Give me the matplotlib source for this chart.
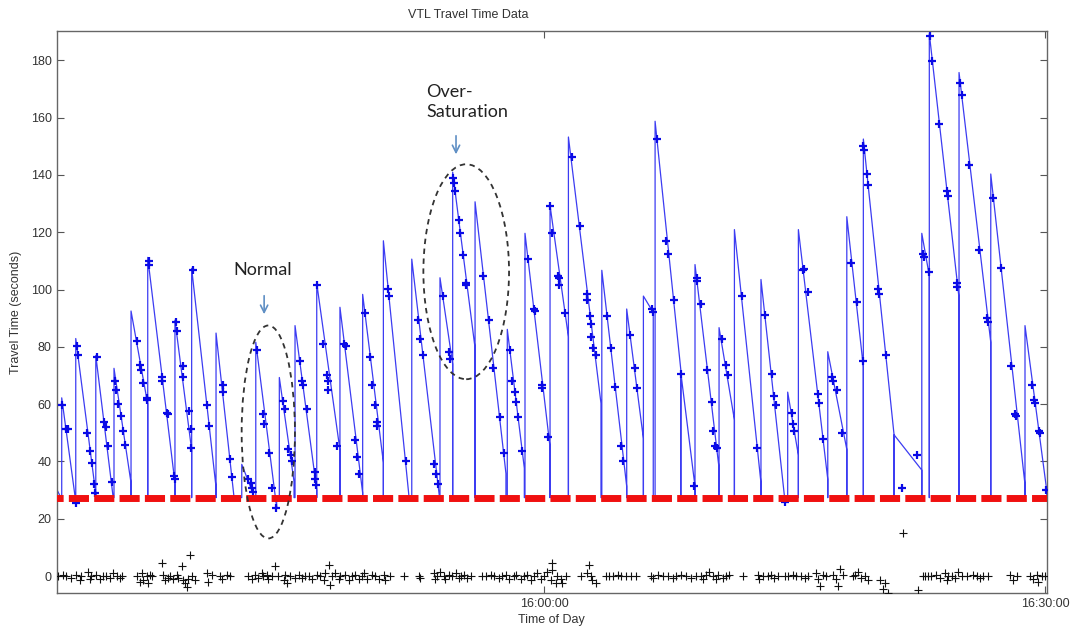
import numpy as np
import matplotlib
matplotlib.use("Agg")
import matplotlib.pyplot as plt
from matplotlib.patches import Ellipse

# time axis: minutes after 15:00
# sawtooth cycles of the VTL travel time (start, peak, end, value at end)
cyc_start = [30.50, 31.12, 31.96, 33.16, 34.25, 35.27, 36.27, 37.90, 38.90, 40.36,
             41.90, 42.74, 44.15, 45.09, 46.39, 47.78, 49.14, 50.38, 52.08, 53.77,
             54.53, 55.87, 57.80, 58.86, 60.36, 61.46, 63.46, 64.95, 65.95, 66.65,
             68.19, 69.04, 70.48, 71.40, 72.99, 74.59, 75.23, 76.99, 78.13, 79.12,
             80.96, 82.62, 83.07, 84.85, 86.75, 88.80]
cyc_peak = [34.0, 62.2, 82.9, 77.0, 72.5, 92.5, 111.2, 89.3, 107.4, 84.8,
            39.0, 81.6, 69.3, 87.4, 102.2, 93.8, 98.3, 117.0, 110.6, 104.1,
            140.9, 130.6, 86.1, 119.6, 129.3, 153.2, 106.7, 93.2, 97.7, 158.7,
            71.0, 108.7, 86.7, 120.9, 103.5, 64.2, 120.9, 78.3, 125.4, 152.5,
            49.3, 119.6, 189.3, 175.7, 140.3, 87.4]
cyc_end = [31.02, 31.96, 33.16, 34.21, 35.27, 36.27, 37.90, 38.90, 40.36, 41.44,
           42.59, 43.99, 45.03, 46.39, 47.78, 49.14, 50.38, 51.92, 53.73, 54.53,
           55.87, 57.72, 58.82, 60.36, 61.46, 63.41, 64.95, 65.95, 66.54, 68.19,
           69.04, 70.48, 71.40, 72.99, 74.43, 75.23, 76.99, 78.13, 79.12, 80.96,
           82.62, 83.07, 84.85, 86.75, 88.80, 90.10]
cyc_endval = [28.0, 26.0, 28.7, 27.0, 32.5, 60.0, 32.5, 44.0, 31.0, 27.4,
              28.7, 24.0, 33.0, 30.0, 44.0, 29.0, 39.6, 27.4, 28.0, 74.0,
              79.6, 35.8, 37.7, 45.0, 83.5, 60.3, 31.3, 48.0, 92.0, 72.0,
              31.3, 37.7, 54.5, 32.5, 26.0, 42.2, 33.8, 44.2, 73.0, 49.3,
              37.0, 104.8, 97.0, 81.6, 31.9, 30.0]

# individual vehicle travel times (blue +)
blue_t = [31.12, 31.40, 31.48, 31.96,
          32.02, 32.11, 32.62, 32.81, 32.91, 33.07, 33.11,
          33.22, 33.67, 33.75, 33.87, 34.15,
          34.31, 34.37, 34.51, 34.67, 34.81, 34.91,
          35.61, 35.81, 35.87, 36.01, 36.21, 36.23,
          36.35, 36.35, 37.11, 37.14, 37.41, 37.50, 37.86, 37.88,
          37.96, 38.04, 38.37, 38.40, 38.76, 38.84, 38.84,
          38.96, 39.80, 39.94,
          40.75, 40.76, 41.20, 41.34,
          42.29, 42.43, 42.53, 42.56,
          42.80, 43.19, 43.25, 43.53, 43.73, 43.95,
          44.39, 44.49, 44.69, 44.83, 44.89,
          45.39, 45.49, 45.59, 45.83, 46.29, 46.31, 46.35,
          46.39, 46.78, 47.02, 47.05, 47.08, 47.59,
          48.02, 48.14, 48.68, 48.82, 48.94,
          49.28, 49.58, 49.72, 49.88, 49.98, 50.00,
          50.66, 50.70, 51.72,
          52.47, 52.57, 52.77, 53.43, 53.51, 53.67,
          53.97, 54.31, 54.37,
          54.57, 54.63, 54.67, 54.91, 54.99, 55.17, 55.33, 55.35,
          56.37, 56.72, 56.96, 57.37, 57.62,
          57.96, 58.10, 58.26, 58.30, 58.42, 58.66,
          59.02, 59.40, 59.43, 59.86, 59.89, 60.26,
          60.36, 60.46, 60.86, 60.89, 60.92, 61.26,
          61.66, 62.16, 62.56, 62.58, 62.75, 62.80, 62.84, 62.95, 63.11,
          63.75, 63.99, 64.25, 64.59, 64.75,
          65.15, 65.45, 65.55,
          66.45, 66.50,
          66.75, 67.31, 67.44, 67.78,
          68.19, 69.00,
          69.14, 69.16, 69.38, 69.78, 70.04, 70.14, 70.24, 70.34,
          70.64, 70.90, 71.00,
          71.87, 72.74,
          73.23, 73.67, 73.79, 73.87, 74.43,
          74.87, 74.93, 74.99,
          75.53, 75.57, 75.79, 76.39, 76.47, 76.72,
          77.23, 77.29, 77.53, 77.86,
          78.38, 78.72, 79.12,
          79.12, 79.18, 79.32, 79.42, 80.02, 80.08, 80.48,
          81.42, 82.32,
          82.71, 82.77, 83.07,
          83.11, 83.22, 83.67, 84.11, 84.17, 84.71, 84.75,
          84.91, 85.01, 85.47, 86.05, 86.51, 86.57,
          86.90, 87.37, 87.96, 88.20, 88.26,
          89.24, 89.34, 89.40, 89.66, 89.70, 90.08]
blue_v = [59.6, 51.3, 51.3, 25.5,
          80.3, 77.0, 50.0, 43.5, 39.6, 32.0, 29.0,
          76.4, 53.8, 52.0, 45.5, 32.8,
          68.0, 65.0, 60.0, 56.0, 50.6, 45.7,
          82.2, 73.8, 71.9, 67.4, 62.2, 61.5,
          110.0, 108.7, 69.3, 68.0, 57.0, 56.4, 35.0, 33.8,
          88.7, 85.4, 73.2, 69.3, 57.7, 51.3, 44.8,
          106.7, 59.6, 52.5,
          66.7, 64.4, 41.0, 34.5,
          33.8, 32.5, 30.6, 29.3,
          79.0, 56.4, 53.0, 42.9, 30.6, 23.8,
          61.0, 58.4, 44.2, 42.2, 40.3,
          75.0, 68.0, 66.7, 58.4, 36.4, 33.8, 31.9,
          101.6, 81.0, 70.0, 64.8, 68.0, 45.5,
          81.0, 80.3, 47.4, 41.6, 35.8,
          91.9, 76.4, 66.7, 59.6, 53.8, 52.5,
          100.3, 97.7, 40.3,
          89.3, 82.9, 77.0, 39.0, 35.8, 32.3,
          97.7, 78.3, 75.8,
          139.0, 137.0, 134.5, 124.1, 119.6, 111.9, 102.2, 101.5,
          104.8, 89.3, 72.5, 55.4, 42.9,
          79.0, 68.0, 64.4, 60.6, 55.4, 43.5,
          110.6, 93.2, 92.5, 66.7, 65.5, 48.7,
          129.3, 119.6, 104.8, 104.0, 101.6, 91.9,
          146.1, 122.2, 98.3, 96.5, 90.6, 88.0, 83.5, 79.6, 77.0,
          90.6, 79.6, 66.1, 45.5, 40.3,
          84.2, 72.5, 65.5,
          93.2, 92.0,
          152.5, 117.0, 112.5, 96.4,
          70.6, 31.3,
          104.1, 103.0, 95.1, 71.9, 60.9, 50.6, 45.5, 44.8,
          82.9, 73.8, 70.0,
          97.7, 44.8,
          91.2, 70.6, 62.9, 59.6, 26.0,
          57.0, 53.2, 50.6,
          106.7, 107.3, 99.0, 63.5, 60.3, 48.0,
          69.3, 68.0, 64.8, 50.0,
          109.3, 95.8, 75.0,
          150.0, 148.7, 140.3, 136.4, 100.3, 98.3, 77.0,
          30.6, 42.2,
          112.5, 111.5, 106.1,
          188.6, 179.6, 157.7, 134.5, 132.5, 102.2, 100.9,
          171.9, 168.0, 143.5, 113.8, 90.0, 88.7,
          131.9, 107.4, 73.2, 56.4, 55.8,
          66.7, 61.6, 60.3, 50.6, 50.0, 30.0]

# free-flow travel time (red dashed)
free_flow = 27.4

# residuals near zero (black +)
err_t = [30.9, 31.2, 31.4, 31.7, 32.0, 32.2, 32.3, 32.7, 32.8, 32.9, 33.2, 33.4,
         33.6, 33.8, 34.0, 34.2, 34.4, 34.6, 34.7, 35.6, 35.8, 35.9, 36.0, 36.2,
         36.3, 36.4, 36.5, 37.1, 37.2, 37.3, 37.5, 37.6, 37.8, 38.0, 38.1, 38.3,
         38.4, 38.5, 38.6, 38.7, 38.8, 38.9, 39.1, 39.8, 39.9, 40.1, 40.6, 40.7,
         41.0, 41.2, 42.3, 42.5, 42.7, 42.9, 43.1, 43.2, 43.4, 43.5, 43.7, 43.9,
         44.1, 44.4, 44.5, 44.6, 44.8, 45.1, 45.3, 45.5, 45.7, 45.9, 46.1, 46.4,
         46.6, 46.8, 46.9, 47.1, 47.2, 47.3, 47.5, 47.7, 47.8, 48.1, 48.3, 48.5,
         48.7, 48.9,
         49.1, 49.2, 49.4, 49.7, 49.9, 50.1, 50.4, 50.5, 50.8, 51.6, 52.5, 52.6,
         53.4, 53.5, 53.6, 53.8, 54.0, 54.1, 54.3, 54.5, 54.7, 54.9, 55.0, 55.2,
         55.4, 55.6, 56.3, 56.5, 56.8, 57.0, 57.3, 57.5, 57.7, 57.9, 58.2, 58.3,
         58.6, 58.8, 59.0, 59.2, 59.4, 59.6, 59.8, 60.0, 60.2, 60.4, 60.5, 60.5,
         60.7, 60.8, 61.0, 61.1, 61.3, 62.2, 62.6, 62.7, 62.8, 62.9, 63.1, 63.7,
         63.9, 64.1, 64.4, 64.6, 64.9, 65.2, 65.5, 66.4, 66.5, 66.8, 67.1, 67.4,
         67.7, 67.9, 68.2, 68.5, 68.8, 69.1,
         69.4, 69.5, 69.7, 69.9, 70.1, 70.3, 70.4, 70.7, 70.9, 71.1, 71.9, 72.8,
         72.9, 73.1, 73.4, 73.6, 73.8, 74.0, 74.4, 74.6, 74.9, 75.1, 75.4, 75.6,
         75.8, 76.3, 76.4, 76.5, 76.7, 76.9, 77.3, 77.5, 77.6, 77.7, 77.9, 78.5,
         78.6, 78.8, 79.0, 79.2, 79.4, 80.1, 80.3, 80.4, 80.6, 81.5, 82.4, 82.7,
         82.8, 83.0, 83.2, 83.5, 83.7, 84.0, 84.1, 84.2, 84.4, 84.6, 84.8, 85.0,
         85.3, 85.7, 85.9, 86.1, 86.3, 86.6, 87.9, 88.1, 88.3, 89.1, 89.3, 89.5,
         89.6, 89.8, 90.0]
err_v = [0.0, 0.5, 0.0, -0.5, 0.5, -1.5, 0.0, 1.5, -1.0, 0.0, 0.5, -1.0,
         0.0, 0.0, -0.5, 1.0, 0.0, -0.5, 0.0, 0.0, -2.0, 1.0, -1.5, 0.0,
         -2.5, 0.5, 0.0, 4.5, 0.5, -1.5, -0.5, 0.0, -1.0, 0.5, -0.5, 3.5,
         -1.5, -2.5, -3.8, -1.0, 7.5, 0.0, -1.5, 1.0, -2.0, 0.5, 0.0, -1.0,
         0.5, 0.0, 0.0, -1.0, 0.5, -0.5, 1.0, 0.0, 0.5, -1.0, 0.0, 3.5,
         0.0, -1.5, 0.5, -2.5, 0.0, -0.5, 0.5, -0.5, 0.0, 0.0, -1.0, 0.5,
         0.0, -1.5, 1.0, 4.0, -3.0, 0.0, 1.0, -1.0, 0.0, 0.5, -1.5, 0.0,
         0.5, -1.0,
         0.0, 1.0, -1.0, 0.5, 0.0, -1.0, 0.5, -1.5, 0.0, 0.0, 0.0, -0.5,
         1.0, -1.0, 0.0, 1.5, 0.0, -1.0, 0.5, 0.0, 1.0, -0.5, 0.0, 0.5,
         -0.5, 0.0, 0.0, 0.0, 0.5, 0.0, -0.5, 0.0, 0.5, -1.0, 0.0, 0.5,
         -1.0, 0.0, 0.5, -1.5, 0.0, 1.0, -1.0, 0.0, 1.5, -1.5, 4.5, 2.0,
         -2.5, 0.0, -1.0, -2.5, 0.0, 0.0, 1.0, 4.0, 0.0, -1.5, -2.5, 0.0,
         0.0, 0.0, 0.5, 0.0, 0.0, 0.0, 0.0, 0.0, -0.5, 0.5, 0.0, 0.0,
         -0.5, 0.0, 0.5, 0.0, -0.5, 0.0,
         0.0, -1.0, 0.5, 1.5, 0.0, -1.0, 0.5, -0.5, 0.0, 0.5, 0.0, 0.5,
         -1.0, 0.0, 0.0, 0.5, -0.5, 0.0, 0.0, 0.0, 0.5, 0.0, 0.0, -0.5,
         0.0, 1.0, -1.0, -3.5, 0.5, 0.0, 0.5, -1.0, -3.5, 2.5, 0.5, 0.0,
         0.5, 1.5, -0.5, 0.0, -1.5, -1.5, -4.5, -2.5, -6.0, 15.0, -5.0, 0.0,
         0.0, 0.0, 0.0, 0.5, -0.5, 1.0, -1.5, 0.0, 0.0, -0.5, 1.5, 0.0,
         0.0, 0.5, 0.0, -0.5, 0.0, 0.0, 0.5, -1.5, 0.0, 0.0, -1.0, 0.5,
         -2.0, 0.0, 0.0]

X_TICKS = [60, 90]
X_TICKLABELS = ["16:00:00", "16:30:00"]
Y_TICKS = list(range(0, 181, 20))

BLUE_LINE = "#3c3cf2"
BLUE_MARK = "#0a0ae6"
ARROW = "#5f8fc4"


def sawtooth_path(base):
    xs, ys = [], []
    for s, p, e, v in zip(cyc_start, cyc_peak, cyc_end, cyc_endval):
        xs += [s, s, e, e]
        ys += [base, p, v, base]
    return xs, ys


def main():
    plt.rcParams["font.family"] = ["Liberation Sans", "DejaVu Sans"]
    fig = plt.figure(figsize=(10.73, 6.32), dpi=100)
    ax = fig.add_axes([0.0527, 0.0612, 0.9228, 0.8898])

    xs, ys = sawtooth_path(free_flow)
    ax.plot(xs, ys, color=BLUE_LINE, lw=0.9, zorder=2)
    ax.plot(blue_t, blue_v, ls="none", marker="+", ms=5.5, mew=1.6,
            color=BLUE_MARK, zorder=3)
    ax.plot([30.0, 90.1], [free_flow, free_flow], color="#f01010", lw=5,
            dashes=(2.9, 0.75), solid_capstyle="butt", zorder=4)
    ax.plot(err_t, err_v, ls="none", marker="+", ms=6, mew=0.8,
            color="#111111", zorder=5)

    # annotations
    for c, w, h in [((43.49, 50.3), 3.19, 74.3), ((55.34, 106.2), 5.13, 75.0)]:
        ax.add_patch(Ellipse(c, w, h, fill=False, ls=(0, (3, 2.5)), lw=1.3,
                             ec="#333333", zorder=6))
    ax.text(41.4, 106.8, "Normal", fontsize=13, family="Lato",
            color="#222222", ha="left", va="center")
    ax.text(52.95, 165.4, "Over-\nSaturation", fontsize=13, family="Lato",
            color="#222222", ha="left", va="center", linespacing=1.3)
    for x, y0, y1 in [(43.24, 98.8, 90.4), (54.73, 154.6, 146.2)]:
        ax.annotate("", xy=(x, y1), xytext=(x, y0),
                    arrowprops=dict(arrowstyle="->", color=ARROW, lw=1.2,
                                    mutation_scale=13))

    ax.set_xlim(30.81, 90.1)
    ax.set_ylim(-6, 190.2)
    ax.set_xticks(X_TICKS)
    ax.set_xticklabels(X_TICKLABELS)
    ax.set_yticks(Y_TICKS)
    ax.tick_params(direction="in", length=5, width=0.8, color="#555555",
                   labelsize=9, labelcolor="#333333", top=True, right=True)
    for sp in ax.spines.values():
        sp.set_color("#666666")
        sp.set_linewidth(1.0)
    ax.set_xlabel("Time of Day", fontsize=9, color="#333333", labelpad=3)
    ax.set_ylabel("Travel Time (seconds)", fontsize=9, color="#333333",
                  labelpad=6)
    fig.text(468 / 1073, 1 - 15 / 632, "VTL Travel Time Data", fontsize=9,
             color="#333333", ha="center", va="center")

    fig.savefig("out.png", dpi=100)
    plt.close(fig)


if __name__ == "__main__":
    main()
